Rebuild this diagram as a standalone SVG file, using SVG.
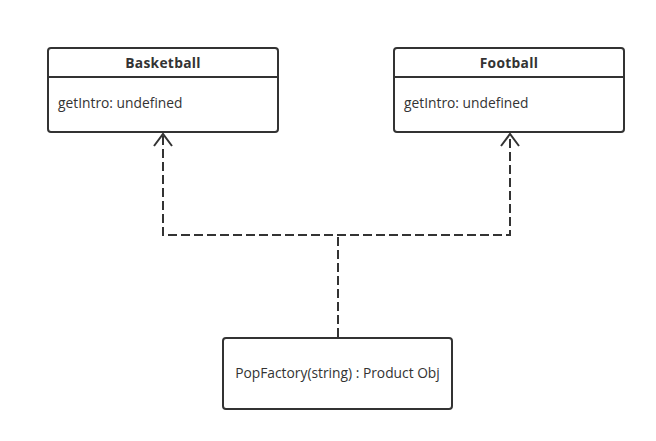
<svg xmlns="http://www.w3.org/2000/svg" width="656" height="441" viewBox="0 0 656 441">
<style>
.box{fill:#fff;stroke:#333;stroke-width:2}
.div{stroke:#333;stroke-width:2}
.t{font-family:"Open Sans","Noto Sans","Liberation Sans",sans-serif;font-size:13.8px;fill:#333}
.b{font-weight:bold;text-anchor:middle;letter-spacing:0.3px}
.c{fill:none;stroke:#333;stroke-width:2;stroke-dasharray:9,4}
.ah{fill:none;stroke:#333;stroke-width:2}
</style>
<rect width="656" height="441" fill="#fff"/>
<g id="connectors">
<path class="c" d="M163,136 V235 H510 V136"/>
<path class="c" d="M338,337 V235"/>
<path class="ah" d="M154,146 L163,134 L172,146"/>
<path class="ah" d="M501,146 L510,134 L519,146"/>
</g>
<g id="basketball">
<rect class="box" x="48" y="48" width="230" height="84" rx="3"/>
<line class="div" x1="48" y1="77" x2="278" y2="77"/>
<text class="t b" x="163" y="68">Basketball</text>
<text class="t" x="58" y="108">getIntro: undefined</text>
</g>
<g id="football">
<rect class="box" x="394" y="48" width="230" height="84" rx="3"/>
<line class="div" x1="394" y1="77" x2="624" y2="77"/>
<text class="t b" x="509" y="68">Football</text>
<text class="t" x="404" y="108">getIntro: undefined</text>
</g>
<g id="popfactory">
<rect class="box" x="223" y="338" width="229" height="71" rx="3"/>
<text class="t" x="337.5" y="378" text-anchor="middle">PopFactory(string) : Product Obj</text>
</g>
</svg>
